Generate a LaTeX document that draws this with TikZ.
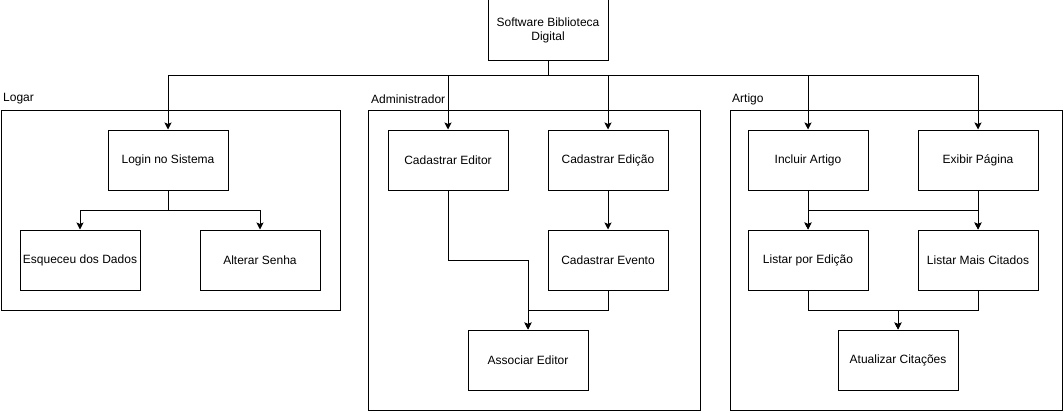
\documentclass[tikz,border=0pt]{standalone}
\usepackage{fontspec}
\setmainfont{Liberation Sans}
\usetikzlibrary{arrows.meta}
\begin{document}
\begin{tikzpicture}[x=1pt,y=-1pt,
  every node/.style={font=\fontsize{12}{14}\selectfont},
  box/.style={draw,line width=1pt,minimum width=120pt,minimum height=60pt,inner sep=0pt,align=center},
  group/.style={draw,line width=1pt,inner sep=0pt},
  glabel/.style={anchor=west,inner sep=0pt},
  conn/.style={line width=1pt,-{Stealth[length=7pt,width=7pt,inset=1.5pt]}},
  plain/.style={line width=1pt}]
\useasboundingbox (0,0) rectangle (1064,412);
% containers
\node[group,minimum width=339pt,minimum height=200pt] (glog) at (170.5,210) {};
\node[group,minimum width=332pt,minimum height=300pt] (gadm) at (534,260) {};
\node[group,minimum width=332pt,minimum height=300pt] (gart) at (896,260) {};
\node[glabel] (llog) at (3,99) {Logar};
\node[glabel] (ladm) at (371,99) {Administrador};
\node[glabel] (lart) at (732,99) {Artigo};
% nodes
\node[box] (top) at (548,30) {Software Biblioteca\\Digital};
\node[box] (login) at (168,160) {Login no Sistema};
\node[box] (esq) at (80,260) {Esqueceu dos Dados};
\node[box] (alt) at (260,260) {Alterar Senha};
\node[box] (ced) at (448,160) {Cadastrar Editor};
\node[box] (cedi) at (608,160) {Cadastrar Edição};
\node[box] (ceve) at (608,260) {Cadastrar Evento};
\node[box] (assoc) at (528,360) {Associar Editor};
\node[box] (inc) at (808,160) {Incluir Artigo};
\node[box] (exi) at (978,160) {Exibir Página};
\node[box] (lped) at (808,260) {Listar por Edição};
\node[box] (lmc) at (978,260) {Listar Mais Citados};
\node[box] (atu) at (898,360) {Atualizar Citações};
\coordinate (bus) at (548,75);
% connectors from top
\draw[conn] (top.south) -- (bus) -| (login.north);
\draw[conn] (top.south) -- (bus) -| (ced.north);
\draw[conn] (top.south) -- (bus) -| (cedi.north);
\draw[conn] (top.south) -- (bus) -| (inc.north);
\draw[conn] (top.south) -- (bus) -| (exi.north);
% Logar
\draw[conn] (login.south) -- ++(0,20) -| (esq.north);
\draw[conn] (login.south) -- ++(0,20) -| (alt.north);
% Administrador
\draw[conn] (cedi.south) -- (ceve.north);
\draw[conn] (ced.south) -- ++(0,70) -| (assoc.north);
\draw[conn] (ceve.south) -- ++(0,20) -| (assoc.north);
% Artigo
\draw[conn] (inc.south) -- ++(0,20) -| (lped.north);
\draw[conn] (inc.south) -- ++(0,20) -| (lmc.north);
\draw[conn] (exi.south) -- ++(0,20) -| (lped.north);
\draw[conn] (exi.south) -- ++(0,20) -| (lmc.north);
\draw[conn] (lped.south) -- ++(0,20) -| (atu.north);
\draw[conn] (lmc.south) -- ++(0,20) -| (atu.north);
\end{tikzpicture}
\end{document}
